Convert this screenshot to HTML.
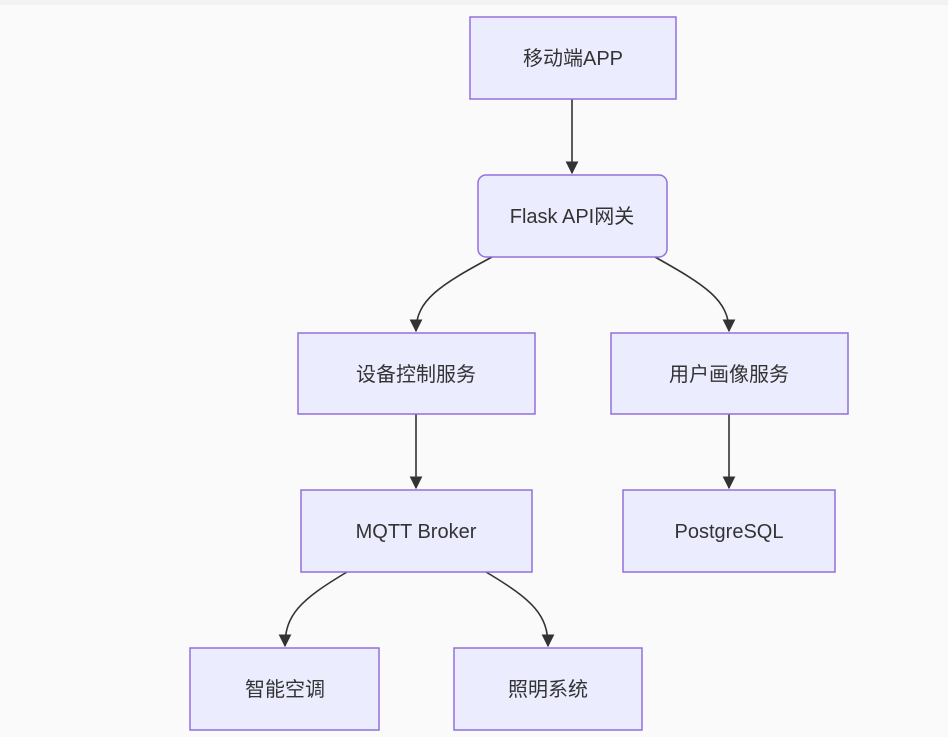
<!DOCTYPE html>
<html><head><meta charset="utf-8"><style>
html,body{margin:0;padding:0;background:#fafafa;}
svg{display:block;}
text{font-family:"Liberation Sans","Noto Sans CJK SC",sans-serif;font-size:20px;fill:#333;}
</style></head><body>
<svg width="948" height="737" xmlns="http://www.w3.org/2000/svg">
<rect x="0" y="0" width="948" height="5" fill="#f2f2f2"/>
<defs><marker id="a" viewBox="0 0 10 10" refX="9" refY="5" markerWidth="8" markerHeight="8" orient="auto"><path d="M0,0 L10,5 L0,10 z" fill="#333"/></marker></defs>
<g fill="none" stroke="#333" stroke-width="1.6">
<path d="M572,99 L572,173" marker-end="url(#a)"/>
<path d="M492,257 C440,285 416,300 416,331" marker-end="url(#a)"/>
<path d="M655,257 C705,285 729,300 729,331" marker-end="url(#a)"/>
<path d="M416,414 L416,488" marker-end="url(#a)"/>
<path d="M729,414 L729,488" marker-end="url(#a)"/>
<path d="M347,572 C300,600 285,615 285,646" marker-end="url(#a)"/>
<path d="M486,572 C533,600 548,615 548,646" marker-end="url(#a)"/>
</g>
<g fill="#ececff" stroke="#9370db" stroke-width="1.5">
<rect x="470" y="17" width="206" height="82"/>
<rect x="478" y="175" width="189" height="82" rx="8"/>
<rect x="298" y="333" width="237" height="81"/>
<rect x="611" y="333" width="237" height="81"/>
<rect x="301" y="490" width="231" height="82"/>
<rect x="623" y="490" width="212" height="82"/>
<rect x="190" y="648" width="189" height="82"/>
<rect x="454" y="648" width="188" height="82"/>
</g>
<g text-anchor="middle">
<text x="573" y="65">移动端APP</text>
<text x="572" y="223">Flask API网关</text>
<text x="416" y="381">设备控制服务</text>
<text x="729" y="381">用户画像服务</text>
<text x="416" y="538">MQTT Broker</text>
<text x="729" y="538">PostgreSQL</text>
<text x="285" y="696">智能空调</text>
<text x="548" y="696">照明系统</text>
</g>
</svg>
</body></html>
